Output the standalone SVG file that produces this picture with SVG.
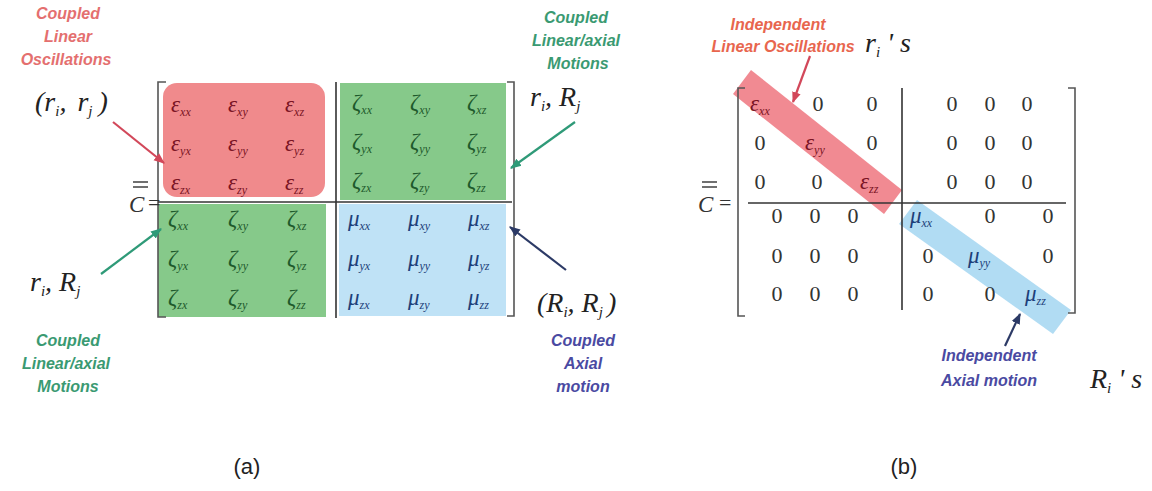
<svg xmlns="http://www.w3.org/2000/svg" width="1152" height="491" viewBox="0 0 1152 491">
<defs>
<style>
.m{font-family:"Liberation Serif","DejaVu Serif",serif;font-style:italic;font-size:23px}
.big{font-size:28px}
.z{font-family:"Liberation Serif","DejaVu Serif",serif;font-size:22px;fill:#333}
.s{font-size:12px}
.s2{font-size:15px}
.lbl{font-family:"Liberation Sans",Arial,sans-serif;font-weight:bold;font-style:italic;font-size:16px;text-anchor:middle}
.red{fill:#e46f6f}.grn{fill:#3a9a72}.blu{fill:#4a4aa2}.org{fill:#e8664e}
.eps{fill:#7a1424}.zet{fill:#1e5a2c}.mu{fill:#1d3f7a}
.br{fill:none;stroke:#555;stroke-width:1.6}
.dv{stroke:#333;stroke-width:1.6}
.cap{font-family:"Liberation Sans",Arial,sans-serif;font-size:22px;fill:#222;text-anchor:middle}
</style>
<marker id="ar" viewBox="0 0 10 10" refX="9" refY="5" markerWidth="5" markerHeight="5" orient="auto"><path d="M0,1 L10,5 L0,9 z" fill="context-stroke"/></marker>
</defs>
<rect width="1152" height="491" fill="#fff"/>

<g id="panel-a">
<g id="a-blocks">
<rect x="163" y="83" width="162" height="114" rx="14" fill="#f08a8c"/>
<rect x="340" y="83" width="166" height="117" fill="#86c98a"/>
<rect x="158" y="204" width="168" height="113" fill="#86c98a"/>
<rect x="339" y="204" width="167" height="112" fill="#bfe2f6"/>
</g>
<path class="br" d="M166,82 H158 V317 H166"/>
<path class="br" d="M507,82 H514 V316 H507"/>
<line class="dv" x1="336" y1="82" x2="336" y2="318"/>
<line class="dv" x1="158" y1="202" x2="512" y2="202"/>

<g id="a-eps" class="m eps">
<text x="171" y="112">ε<tspan class="s" dy="4">xx</tspan></text>
<text x="228" y="112">ε<tspan class="s" dy="4">xy</tspan></text>
<text x="285" y="112">ε<tspan class="s" dy="4">xz</tspan></text>
<text x="171" y="151">ε<tspan class="s" dy="4">yx</tspan></text>
<text x="228" y="151">ε<tspan class="s" dy="4">yy</tspan></text>
<text x="285" y="151">ε<tspan class="s" dy="4">yz</tspan></text>
<text x="171" y="190">ε<tspan class="s" dy="4">zx</tspan></text>
<text x="228" y="190">ε<tspan class="s" dy="4">zy</tspan></text>
<text x="285" y="190">ε<tspan class="s" dy="4">zz</tspan></text>
</g>
<g id="a-zeta-tr" class="m zet">
<text x="352" y="110">ζ<tspan class="s" dy="4">xx</tspan></text>
<text x="410" y="110">ζ<tspan class="s" dy="4">xy</tspan></text>
<text x="467" y="110">ζ<tspan class="s" dy="4">xz</tspan></text>
<text x="352" y="149">ζ<tspan class="s" dy="4">yx</tspan></text>
<text x="410" y="149">ζ<tspan class="s" dy="4">yy</tspan></text>
<text x="467" y="149">ζ<tspan class="s" dy="4">yz</tspan></text>
<text x="352" y="188">ζ<tspan class="s" dy="4">zx</tspan></text>
<text x="410" y="188">ζ<tspan class="s" dy="4">zy</tspan></text>
<text x="467" y="188">ζ<tspan class="s" dy="4">zz</tspan></text>
</g>
<g id="a-zeta-bl" class="m zet">
<text x="168" y="226">ζ<tspan class="s" dy="4">xx</tspan></text>
<text x="228" y="226">ζ<tspan class="s" dy="4">xy</tspan></text>
<text x="287" y="226">ζ<tspan class="s" dy="4">xz</tspan></text>
<text x="168" y="266">ζ<tspan class="s" dy="4">yx</tspan></text>
<text x="228" y="266">ζ<tspan class="s" dy="4">yy</tspan></text>
<text x="287" y="266">ζ<tspan class="s" dy="4">yz</tspan></text>
<text x="168" y="305">ζ<tspan class="s" dy="4">zx</tspan></text>
<text x="228" y="305">ζ<tspan class="s" dy="4">zy</tspan></text>
<text x="287" y="305">ζ<tspan class="s" dy="4">zz</tspan></text>
</g>
<g id="a-mu" class="m mu">
<text x="348" y="226">μ<tspan class="s" dy="4">xx</tspan></text>
<text x="408" y="226">μ<tspan class="s" dy="4">xy</tspan></text>
<text x="468" y="226">μ<tspan class="s" dy="4">xz</tspan></text>
<text x="348" y="266">μ<tspan class="s" dy="4">yx</tspan></text>
<text x="408" y="266">μ<tspan class="s" dy="4">yy</tspan></text>
<text x="468" y="266">μ<tspan class="s" dy="4">yz</tspan></text>
<text x="348" y="305">μ<tspan class="s" dy="4">zx</tspan></text>
<text x="408" y="305">μ<tspan class="s" dy="4">zy</tspan></text>
<text x="468" y="305">μ<tspan class="s" dy="4">zz</tspan></text>
</g>
<g id="a-C">
<text class="m" x="129" y="212" font-size="32" fill="#333">C</text>
<line x1="133" y1="182" x2="148" y2="182" stroke="#333" stroke-width="1.4"/>
<line x1="133" y1="187" x2="148" y2="187" stroke="#333" stroke-width="1.4"/>
<text class="z" x="148" y="210">=</text>
</g>
</g>

<g id="a-label-tl">
<text class="lbl red" x="68" y="19">Coupled</text>
<text class="lbl red" x="68" y="42">Linear</text>
<text class="lbl red" x="66" y="65">Oscillations</text>
<text class="m big" x="35" y="111" fill="#222">(r<tspan class="s2" dy="5">i</tspan><tspan dy="-5">, </tspan><tspan dx="4">r</tspan><tspan class="s2" dy="5">j</tspan><tspan dy="-5" dx="6">)</tspan></text>
</g>
<g id="a-label-tr">
<text class="lbl grn" x="576" y="23">Coupled</text>
<text class="lbl grn" x="576" y="46">Linear/axial</text>
<text class="lbl grn" x="578" y="69">Motions</text>
<text class="m big" x="530" y="106" fill="#222">r<tspan class="s2" dy="5">i</tspan><tspan dy="-5">, R</tspan><tspan class="s2" dy="5">j</tspan></text>
</g>
<g id="a-label-bl">
<text class="m big" x="30" y="291" fill="#222">r<tspan class="s2" dy="5">i</tspan><tspan dy="-5">, R</tspan><tspan class="s2" dy="5">j</tspan></text>
<text class="lbl grn" x="68" y="346">Coupled</text>
<text class="lbl grn" x="66" y="369">Linear/axial</text>
<text class="lbl grn" x="68" y="392">Motions</text>
</g>
<g id="a-label-br">
<text class="m big" x="537" y="312" fill="#222">(R<tspan class="s2" dy="5">i</tspan><tspan dy="-5">, R</tspan><tspan class="s2" dy="5">j</tspan><tspan dy="-5" dx="4">)</tspan></text>
<text class="lbl blu" x="583" y="346">Coupled</text>
<text class="lbl blu" x="583" y="369">Axial</text>
<text class="lbl blu" x="583" y="392">motion</text>
</g>

<g id="panel-b">
<g id="b-bands">
<polygon points="751,70 902,190 884,214 733,94" fill="#ef7d86" opacity="0.9"/>
<polygon points="917,200 1071,310 1053,334 899,224" fill="#a9d8f2" opacity="0.9"/>
</g>
<path class="br" d="M745,88 H738 V316 H745"/>
<path class="br" d="M1068,88 H1075 V313 H1068"/>
<line class="dv" x1="902" y1="88" x2="902" y2="310"/>
<line class="dv" x1="748" y1="203" x2="1066" y2="203"/>
<g id="b-entries" class="z">
<text class="m eps" x="750" y="111">ε<tspan class="s" dy="4">xx</tspan></text>
<text x="818" y="111" text-anchor="middle">0</text>
<text x="872" y="111" text-anchor="middle">0</text>
<text x="760" y="150" text-anchor="middle">0</text>
<text class="m eps" x="805" y="150">ε<tspan class="s" dy="4">yy</tspan></text>
<text x="872" y="150" text-anchor="middle">0</text>
<text x="760" y="189" text-anchor="middle">0</text>
<text x="817" y="189" text-anchor="middle">0</text>
<text class="m eps" x="860" y="189">ε<tspan class="s" dy="4">zz</tspan></text>
<text x="952" y="111" text-anchor="middle">0</text>
<text x="990" y="111" text-anchor="middle">0</text>
<text x="1027" y="111" text-anchor="middle">0</text>
<text x="952" y="150" text-anchor="middle">0</text>
<text x="990" y="150" text-anchor="middle">0</text>
<text x="1027" y="150" text-anchor="middle">0</text>
<text x="952" y="189" text-anchor="middle">0</text>
<text x="990" y="189" text-anchor="middle">0</text>
<text x="1027" y="189" text-anchor="middle">0</text>
<text x="777" y="223" text-anchor="middle">0</text>
<text x="815" y="223" text-anchor="middle">0</text>
<text x="853" y="223" text-anchor="middle">0</text>
<text x="777" y="263" text-anchor="middle">0</text>
<text x="815" y="263" text-anchor="middle">0</text>
<text x="853" y="263" text-anchor="middle">0</text>
<text x="777" y="301" text-anchor="middle">0</text>
<text x="815" y="301" text-anchor="middle">0</text>
<text x="853" y="301" text-anchor="middle">0</text>
<text class="m mu" x="910" y="223">μ<tspan class="s" dy="4">xx</tspan></text>
<text x="990" y="223" text-anchor="middle">0</text>
<text x="1048" y="223" text-anchor="middle">0</text>
<text x="928" y="263" text-anchor="middle">0</text>
<text class="m mu" x="968" y="263">μ<tspan class="s" dy="4">yy</tspan></text>
<text x="1048" y="263" text-anchor="middle">0</text>
<text x="928" y="301" text-anchor="middle">0</text>
<text x="990" y="301" text-anchor="middle">0</text>
<text class="m mu" x="1025" y="301">μ<tspan class="s" dy="4">zz</tspan></text>
</g>
<g id="b-C">
<text class="m" x="698" y="212" font-size="32" fill="#333">C</text>
<line x1="702" y1="182" x2="717" y2="182" stroke="#333" stroke-width="1.4"/>
<line x1="702" y1="187" x2="717" y2="187" stroke="#333" stroke-width="1.4"/>
<text class="z" x="719" y="210">=</text>
</g>
</g>
<g id="b-label-top">
<text class="lbl org" x="778" y="30" font-size="15">Independent</text>
<text class="lbl org" x="783" y="52" font-size="15">Linear Oscillations</text>
<text class="m big" x="865" y="52" fill="#222">r<tspan class="s2" dy="5">i</tspan><tspan dy="-5"> ' s</tspan></text>
</g>
<g id="b-label-bottom">
<text class="lbl blu" x="989" y="361" font-size="17">Independent</text>
<text class="lbl blu" x="989" y="386" font-size="17">Axial motion</text>
<text class="m big" x="1090" y="388" fill="#222">R<tspan class="s2" dy="5">i</tspan><tspan dy="-5"> ' s</tspan></text>
</g>

<g id="connectors" fill="none" stroke-width="2.2">
<line x1="113" y1="122" x2="164" y2="163" stroke="#d2485a" marker-end="url(#ar)"/>
<line x1="575" y1="122" x2="511" y2="168" stroke="#2f9a78" marker-end="url(#ar)"/>
<line x1="101" y1="274" x2="161" y2="229" stroke="#2f9a78" marker-end="url(#ar)"/>
<line x1="566" y1="270" x2="510" y2="227" stroke="#2c3a66" marker-end="url(#ar)"/>
<line x1="810" y1="56" x2="793" y2="102" stroke="#d2485a" marker-end="url(#ar)"/>
<line x1="1005" y1="346" x2="1020" y2="314" stroke="#2c3a66" marker-end="url(#ar)"/>
</g>

<text class="cap" x="247" y="474">(a)</text>
<text class="cap" x="904" y="474">(b)</text>
</svg>
